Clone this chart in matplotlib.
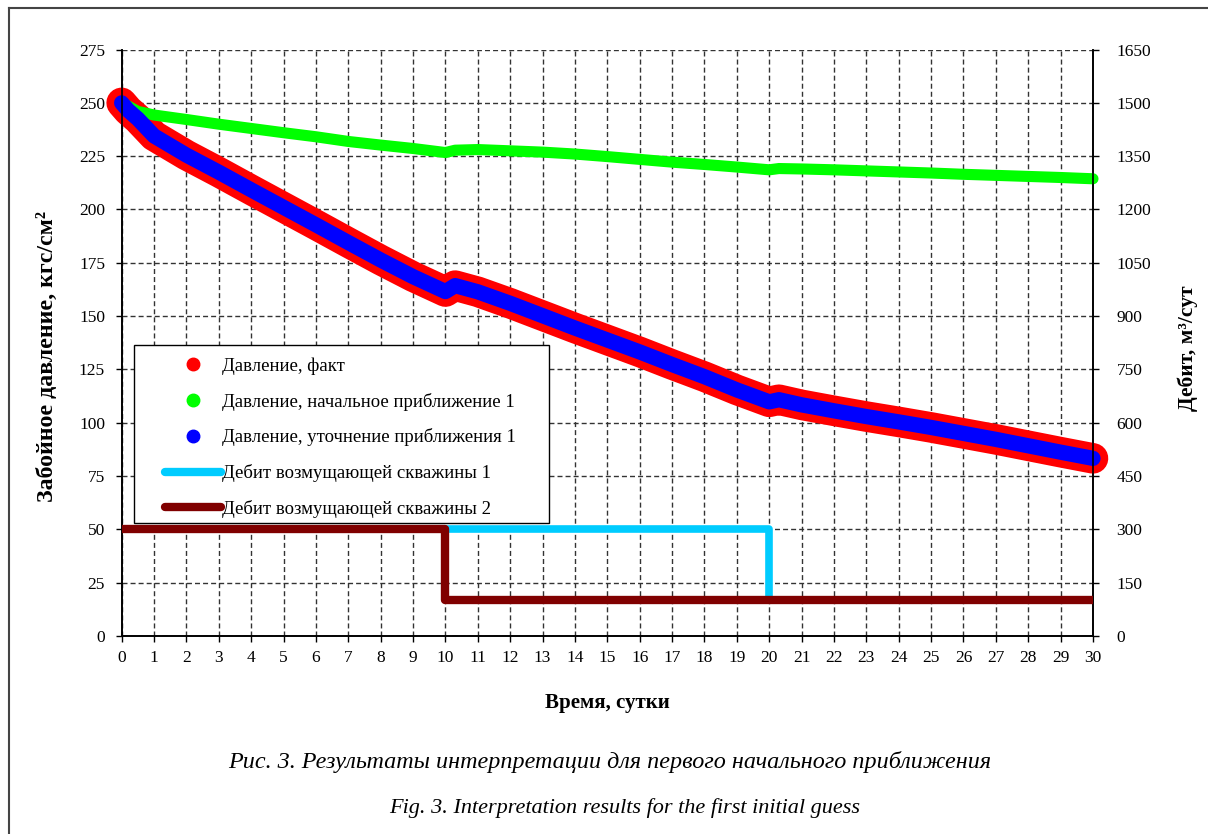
import numpy as np
import matplotlib
matplotlib.use('Agg')
import matplotlib.pyplot as plt
from matplotlib.lines import Line2D
from matplotlib.patches import Rectangle

plt.rcParams['font.family'] = ['Liberation Serif', 'DejaVu Serif']

# время, сутки
t_days = [0, 0.2, 0.5, 1, 2, 3, 4, 5, 6, 7, 8, 9, 10, 10.3, 11, 12, 13, 14, 15,
          16, 17, 18, 19, 20, 20.3, 21, 22, 23, 24, 25, 26, 27, 28, 29, 30]

# давление, факт
p_fact = [250, 246.5, 242.5, 234.5, 225.5, 217.5, 209.2, 201.0, 192.8, 184.5,
          176.3, 168.5, 161.5, 164.3, 161.4, 156.0, 150.2, 144.4, 138.8, 133.2,
          127.3, 121.6, 115.4, 109.8, 110.8, 108.4, 105.6, 102.9, 100.4, 97.8,
          95.0, 92.2, 89.2, 86.2, 83.3]

# давление, начальное приближение 1
p_initial = [250, 248.5, 246.0, 244.3, 242.2, 240.0, 238.0, 236.0, 234.1, 231.9,
             230.2, 228.6, 226.7, 227.8, 228.1, 227.5, 226.9, 226.0, 224.8, 223.5,
             222.2, 221.1, 219.9, 218.6, 219.2, 219.0, 218.6, 218.1, 217.6, 217.1,
             216.5, 216.0, 215.5, 215.0, 214.4]

# давление, уточнение приближения 1
p_refined = [250, 246.5, 242.5, 234.5, 225.5, 217.5, 209.2, 201.0, 192.8, 184.5,
             176.3, 168.5, 161.5, 164.3, 161.4, 156.0, 150.2, 144.4, 138.8, 133.2,
             127.3, 121.6, 115.4, 109.8, 110.8, 108.4, 105.6, 102.9, 100.4, 97.8,
             95.0, 92.2, 89.2, 86.2, 83.3]

# дебиты возмущающих скважин, м3/сут
q_t = [0, 10, 20, 30]
q_well1 = [300, 300, 100, 100]
q_well2 = [300, 100, 100, 100]

labels = ['Давление, факт',
          'Давление, начальное приближение 1',
          'Давление, уточнение приближения 1',
          'Дебит возмущающей скважины 1',
          'Дебит возмущающей скважины 2']

fig = plt.figure(figsize=(12.08, 8.34), dpi=100)
ax = fig.add_axes([0.1007, 0.2374, 0.8041, 0.7032])
ax2 = ax.twinx()

# рамка рисунка
fig.add_artist(Line2D([9 / 1208, 9 / 1208], [0, 1 - 8 / 834], transform=fig.transFigure,
                      color='#444444', lw=1.5))
fig.add_artist(Line2D([9 / 1208, 1], [1 - 8 / 834, 1 - 8 / 834], transform=fig.transFigure,
                      color='#444444', lw=1.5))

ax.plot(t_days, p_fact, color='#FF0000', lw=22, solid_capstyle='round',
        solid_joinstyle='round', clip_on=False, zorder=3)
ax.plot(t_days, p_initial, color='#00FF00', lw=8, solid_capstyle='round',
        solid_joinstyle='round', clip_on=False, zorder=4)
ax.plot(t_days, p_refined, color='#0000FF', lw=11, solid_capstyle='round',
        solid_joinstyle='round', clip_on=False, zorder=5)

ax2.step(q_t, q_well1, where='post', color='#00CCFF', lw=5.5, zorder=2)
ax2.step(q_t, q_well2, where='post', color='#800000', lw=6, zorder=3)

ax.set_xlim(0, 30)
ax.set_ylim(0, 275)
ax2.set_ylim(0, 1650)
ax.set_xticks(np.arange(0, 31, 1))
ax.set_yticks(np.arange(0, 276, 25))
ax2.set_yticks(np.arange(0, 1651, 150))

ax.grid(True, color='#333333', lw=1, linestyle=(0, (3.6, 2.2)))
ax.set_axisbelow(True)
for a in (ax, ax2):
    a.spines['top'].set_visible(False)
    for s in ('left', 'right', 'bottom'):
        a.spines[s].set_linewidth(1.2)
ax.tick_params(axis='both', direction='out', length=4, width=1, labelsize=12.5, pad=4)
ax2.tick_params(axis='y', direction='out', length=4, width=1, labelsize=12.5, pad=13)
ax.tick_params(axis='y', pad=8)
ax.tick_params(axis='x', pad=6)

fig.text(47 / 1208, 1 - 356 / 834, 'Забойное давление, кгс/см²', rotation=90,
         ha='center', va='center', fontsize=17.2, fontweight='bold')
fig.text(1188 / 1208, 1 - 348 / 834, 'Дебит, м³/сут', rotation=90,
         ha='center', va='center', fontsize=15.5, fontweight='bold')
fig.text(607 / 1208, 1 - 703 / 834, 'Время, сутки', ha='center', va='center',
         fontsize=15, fontweight='bold')
fig.text(610 / 1208, 1 - 762 / 834, 'Рис. 3. Результаты интерпретации для первого начального приближения',
         ha='center', va='center', fontsize=17.4, style='italic')
fig.text(625 / 1208, 1 - 808 / 834, 'Fig. 3. Interpretation results for the first initial guess',
         ha='center', va='center', fontsize=16, style='italic')

# легенда
box = Rectangle((0.0123, 0.1927), 0.428, 0.3035, transform=ax2.transAxes,
                facecolor='white', edgecolor='black', lw=1, zorder=6)
ax2.add_patch(box)
handles = [Line2D([], [], marker='o', ls='none', color='#FF0000', markersize=9),
           Line2D([], [], marker='o', ls='none', color='#00FF00', markersize=9),
           Line2D([], [], marker='o', ls='none', color='#0000FF', markersize=9),
           Line2D([], [], color='#00CCFF', lw=6, solid_capstyle='round'),
           Line2D([], [], color='#800000', lw=6, solid_capstyle='round')]
leg = ax2.legend(handles, labels, loc='upper left', bbox_to_anchor=(0.0446, 0.4753),
                 bbox_transform=ax2.transAxes, frameon=False, borderpad=0,
                 borderaxespad=0, handlelength=3.0, handletextpad=0.05,
                 labelspacing=0.95, fontsize=13.5)
leg.set_zorder(7)

fig.savefig('out.png', dpi=100)
